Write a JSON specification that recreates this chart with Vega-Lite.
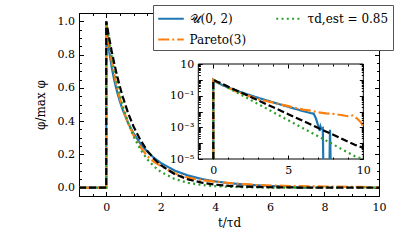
{
  "$schema": "https://vega.github.io/schema/vega-lite/v6.json",
  "width": 300,
  "height": 183,
  "autosize": "none",
  "padding": {"left": 79, "top": 13, "right": 19, "bottom": 50},
  "background": "white",
  "config": {
    "view": {"stroke": "black", "strokeWidth": 1},
    "font": "DejaVu Serif",
    "axis": {"grid": false, "domain": false, "tickColor": "black", "tickWidth": 1, "labelFont": "DejaVu Serif", "labelFontSize": 11, "labelColor": "black", "titleFont": "DejaVu Serif", "titleFontSize": 12, "titleFontWeight": "normal", "titleColor": "black", "labelFlush": false, "labelOverlap": false, "labelBound": false},
    "legend": {"labelFont": "DejaVu Serif", "labelFontSize": 12, "labelColor": "black"}
  },
  "data": {"values": [
    {"s":"U","t":-1,"v":0},{"s":"U","t":0,"v":1e-9},{"s":"U","t":0,"v":1},{"s":"U","t":0.1,"v":0.828},{"s":"U","t":0.2,"v":0.723},{"s":"U","t":0.3,"v":0.641},{"s":"U","t":0.4,"v":0.574},{"s":"U","t":0.5,"v":0.518},{"s":"U","t":0.6,"v":0.469},{"s":"U","t":0.8,"v":0.389},{"s":"U","t":1,"v":0.327},{"s":"U","t":1.25,"v":0.265},{"s":"U","t":1.5,"v":0.217},{"s":"U","t":1.75,"v":0.179},{"s":"U","t":2,"v":0.149},{"s":"U","t":2.5,"v":0.103},{"s":"U","t":3,"v":0.073},{"s":"U","t":3.5,"v":0.052},{"s":"U","t":4,"v":0.0375},{"s":"U","t":4.5,"v":0.0273},{"s":"U","t":5,"v":0.0198},{"s":"U","t":5.5,"v":0.0144},{"s":"U","t":6,"v":0.0106},{"s":"U","t":6.5,"v":0.0079},{"s":"U","t":6.7,"v":0.0072},{"s":"U","t":6.85,"v":0.0035},{"s":"U","t":6.95,"v":0.0017},{"s":"U","t":7.05,"v":0.0009},{"s":"U","t":7.1,"v":0.0006},{"s":"U","t":7.15,"v":0.0011},{"s":"U","t":7.2,"v":0.0008},{"s":"U","t":7.3,"v":0.0009},{"s":"U","t":7.33,"v":1e-9},{"s":"U","t":7.5,"v":null},{"s":"U","t":7.75,"v":1e-9},{"s":"U","t":7.78,"v":0.0007},{"s":"U","t":7.82,"v":1e-9},
    {"s":"P","t":-1,"v":0},{"s":"P","t":0,"v":1e-9},{"s":"P","t":0,"v":1},{"s":"P","t":0.1,"v":0.86},{"s":"P","t":0.2,"v":0.76},{"s":"P","t":0.3,"v":0.675},{"s":"P","t":0.4,"v":0.6},{"s":"P","t":0.5,"v":0.535},{"s":"P","t":0.6,"v":0.48},{"s":"P","t":0.8,"v":0.39},{"s":"P","t":1,"v":0.315},{"s":"P","t":1.25,"v":0.245},{"s":"P","t":1.5,"v":0.19},{"s":"P","t":1.75,"v":0.155},{"s":"P","t":2,"v":0.13},{"s":"P","t":2.5,"v":0.087},{"s":"P","t":3,"v":0.06},{"s":"P","t":3.5,"v":0.046},{"s":"P","t":4,"v":0.036},{"s":"P","t":4.5,"v":0.028},{"s":"P","t":5,"v":0.022},{"s":"P","t":5.5,"v":0.0166},{"s":"P","t":6,"v":0.0132},{"s":"P","t":6.5,"v":0.0112},{"s":"P","t":7,"v":0.0089},{"s":"P","t":7.5,"v":0.0076},{"s":"P","t":8,"v":0.0071},{"s":"P","t":8.5,"v":0.006},{"s":"P","t":9,"v":0.005},{"s":"P","t":9.3,"v":0.0056},{"s":"P","t":9.6,"v":0.0035},{"s":"P","t":9.85,"v":0.002},{"s":"P","t":10,"v":0.0011},
    {"s":"G","t":-1,"v":0},{"s":"G","t":0,"v":1e-9},{"s":"G","t":0,"v":1},{"s":"G","t":0.1,"v":0.889},{"s":"G","t":0.2,"v":0.79},{"s":"G","t":0.3,"v":0.703},{"s":"G","t":0.4,"v":0.625},{"s":"G","t":0.5,"v":0.555},{"s":"G","t":0.6,"v":0.494},{"s":"G","t":0.8,"v":0.39},{"s":"G","t":1,"v":0.308},{"s":"G","t":1.25,"v":0.23},{"s":"G","t":1.5,"v":0.171},{"s":"G","t":1.75,"v":0.128},{"s":"G","t":2,"v":0.095},{"s":"G","t":2.5,"v":0.053},{"s":"G","t":3,"v":0.029},{"s":"G","t":3.5,"v":0.0163},{"s":"G","t":4,"v":0.009},{"s":"G","t":4.5,"v":0.005},{"s":"G","t":5,"v":0.0028},{"s":"G","t":5.5,"v":0.00155},{"s":"G","t":6,"v":0.00086},{"s":"G","t":6.5,"v":0.00048},{"s":"G","t":7,"v":0.00027},{"s":"G","t":7.5,"v":0.00015},{"s":"G","t":8,"v":0.000082},{"s":"G","t":8.5,"v":0.000045},{"s":"G","t":9,"v":0.000025},{"s":"G","t":9.5,"v":0.000014},{"s":"G","t":10,"v":0.0000078},
    {"s":"K","t":-1,"v":0},{"s":"K","t":0,"v":1e-9},{"s":"K","t":0,"v":1},{"s":"K","t":0.1,"v":0.905},{"s":"K","t":0.2,"v":0.819},{"s":"K","t":0.3,"v":0.741},{"s":"K","t":0.4,"v":0.67},{"s":"K","t":0.5,"v":0.607},{"s":"K","t":0.6,"v":0.549},{"s":"K","t":0.8,"v":0.449},{"s":"K","t":1,"v":0.368},{"s":"K","t":1.25,"v":0.287},{"s":"K","t":1.5,"v":0.223},{"s":"K","t":1.75,"v":0.174},{"s":"K","t":2,"v":0.135},{"s":"K","t":2.5,"v":0.082},{"s":"K","t":3,"v":0.0498},{"s":"K","t":3.5,"v":0.0302},{"s":"K","t":4,"v":0.0183},{"s":"K","t":4.5,"v":0.0111},{"s":"K","t":5,"v":0.0067},{"s":"K","t":5.5,"v":0.0041},{"s":"K","t":6,"v":0.0025},{"s":"K","t":6.5,"v":0.0015},{"s":"K","t":7,"v":0.00091},{"s":"K","t":7.5,"v":0.00055},{"s":"K","t":8,"v":0.00034},{"s":"K","t":8.5,"v":0.0002},{"s":"K","t":9,"v":0.00012},{"s":"K","t":9.5,"v":0.000075},{"s":"K","t":10,"v":0.00005}
  ]},
  "layer": [
    {
      "layer": [
        {
          "transform": [{"filter": "datum.s !== 'K'"}],
          "mark": {"type": "line", "strokeWidth": 2.2, "invalid": "break-paths-show-domains"},
          "encoding": {
            "x": {"field": "t", "type": "quantitative", "scale": {"domain": [-1, 10], "nice": false, "zero": false},
              "axis": {"orient": "bottom", "values": [-1,-0.5,0,0.5,1,1.5,2,2.5,3,3.5,4,4.5,5,5.5,6,6.5,7,7.5,8,8.5,9,9.5,10],
                "tickSize": {"condition": {"test": "datum.value % 2 === 0", "value": -4.5}, "value": -2.5},
                "labelExpr": "datum.value % 2 === 0 ? format(datum.value, 'd') : ''", "labelPadding": 10, "title": "t/τd", "titlePadding": 3}},
            "y": {"field": "v", "type": "quantitative", "scale": {"domain": [-0.05, 1.05], "nice": false, "zero": false},
              "axis": {"orient": "left", "values": [-0.05,0,0.05,0.1,0.15,0.2,0.25,0.3,0.35,0.4,0.45,0.5,0.55,0.6,0.65,0.7,0.75,0.8,0.85,0.9,0.95,1,1.05],
                "tickSize": {"condition": {"test": "abs(datum.value*5 - round(datum.value*5)) < 1e-6", "value": -4.5}, "value": -2.5},
                "labelExpr": "abs(datum.value*5 - round(datum.value*5)) < 1e-6 && datum.value >= 0 ? format(datum.value, '.1f') : ''", "labelPadding": 9, "title": "φ/max φ", "titlePadding": 10}},
            "color": {"field": "s", "type": "nominal", "scale": {"domain": ["U", "P", "G"], "range": ["#1f77b4", "#ff7f0e", "#2ca02c"]},
              "legend": {"orient": "none", "legendX": 74, "legendY": -8, "columns": 2, "title": null, "symbolType": "M-1.6,0H1.6", "symbolSize": 256, "symbolStrokeWidth": 2.2, "symbolOffset": 4.5, "labelOffset": 9, "padding": 4, "rowPadding": 5, "columnPadding": 24, "fillColor": "white", "strokeColor": "#555555", "cornerRadius": 0, "labelLimit": 300,
                "labelExpr": "datum.value === 'U' ? '𝒰(0, 2)' : datum.value === 'P' ? 'Pareto(3)' : 'τd,est = 0.85'"}},
            "strokeDash": {"field": "s", "type": "nominal", "scale": {"domain": ["U", "P", "G"], "range": [[1, 0], [11, 3, 2, 3], [2, 3.3]]},
              "legend": {"orient": "none", "legendX": 74, "legendY": -8, "columns": 2, "title": null, "symbolType": "M-1.6,0H1.6", "symbolSize": 256, "symbolStrokeWidth": 2.2, "symbolOffset": 4.5, "labelOffset": 9, "padding": 4, "rowPadding": 5, "columnPadding": 24, "fillColor": "white", "strokeColor": "#555555", "cornerRadius": 0, "labelLimit": 300,
                "labelExpr": "datum.value === 'U' ? '𝒰(0, 2)' : datum.value === 'P' ? 'Pareto(3)' : 'τd,est = 0.85'"}}
          }
        },
        {
          "transform": [{"filter": "datum.s === 'K'"}],
          "mark": {"type": "line", "strokeWidth": 2.2, "color": "black", "strokeDash": [7, 3]},
          "encoding": {
            "x": {"field": "t", "type": "quantitative", "axis": null},
            "y": {"field": "v", "type": "quantitative", "axis": null}
          }
        },
        {
          "transform": [{"filter": "datum.s === 'K'"}],
          "mark": {"type": "line", "opacity": 0},
          "encoding": {
            "x": {"field": "t", "type": "quantitative",
              "axis": {"orient": "top", "values": [-1,-0.5,0,0.5,1,1.5,2,2.5,3,3.5,4,4.5,5,5.5,6,6.5,7,7.5,8,8.5,9,9.5,10],
                "tickSize": {"condition": {"test": "datum.value % 2 === 0", "value": -4.5}, "value": -2.5}, "labels": false, "title": null}},
            "y": {"field": "v", "type": "quantitative",
              "axis": {"orient": "right", "values": [-0.05,0,0.05,0.1,0.15,0.2,0.25,0.3,0.35,0.4,0.45,0.5,0.55,0.6,0.65,0.7,0.75,0.8,0.85,0.9,0.95,1,1.05],
                "tickSize": {"condition": {"test": "abs(datum.value*5 - round(datum.value*5)) < 1e-6", "value": -4.5}, "value": -2.5}, "labels": false, "title": null}}
          }
        }
      ],
      "resolve": {"axis": {"x": "independent", "y": "independent"}}
    },
    {
      "layer": [
        {
          "data": {"values": [{}]},
          "mark": {"type": "rect", "fill": "white", "stroke": "black", "strokeWidth": 1},
          "encoding": {
            "x": {"datum": -1, "type": "quantitative", "scale": {"domain": [-1, 10], "range": [119.3, 284.3], "nice": false, "zero": false, "clamp": true},
              "axis": {"orient": "bottom", "offset": -37, "zindex": 1, "values": [-1,0,1,2,3,4,5,6,7,8,9,10],
                "tickSize": {"condition": {"test": "datum.value % 5 === 0", "value": -4}, "value": -2},
                "labelExpr": "datum.value % 5 === 0 ? format(datum.value, 'd') : ''", "labelPadding": 9.5, "title": null}},
            "x2": {"datum": 10},
            "y": {"datum": 0.00001, "type": "quantitative", "scale": {"type": "log", "domain": [0.00001, 10], "range": [146, 51], "nice": false, "clamp": true},
              "axis": {"orient": "left", "offset": -119.3, "zindex": 1,
                "values": [0.00001,0.00002,0.00003,0.00004,0.00005,0.00006,0.00007,0.00008,0.00009,0.0001,0.0002,0.0003,0.0004,0.0005,0.0006,0.0007,0.0008,0.0009,0.001,0.002,0.003,0.004,0.005,0.006,0.007,0.008,0.009,0.01,0.02,0.03,0.04,0.05,0.06,0.07,0.08,0.09,0.1,0.2,0.3,0.4,0.5,0.6,0.7,0.8,0.9,1,2,3,4,5,6,7,8,9,10],
                "tickSize": {"condition": {"test": "abs(log(datum.value)/LN10 - round(log(datum.value)/LN10)) < 1e-6", "value": -4}, "value": -2},
                "labelExpr": "abs(log(datum.value)/LN10 - round(log(datum.value)/LN10)) < 1e-6 ? (round(log(datum.value)/LN10) === 1 ? '10' : round(log(datum.value)/LN10) === -1 ? '10⁻¹' : round(log(datum.value)/LN10) === -3 ? '10⁻³' : round(log(datum.value)/LN10) === -5 ? '10⁻⁵' : '') : ''",
                "labelPadding": 8.5, "title": null}},
            "y2": {"datum": 10}
          }
        },
        {
          "transform": [{"filter": "datum.s !== 'K' && datum.t >= 0"}],
          "mark": {"type": "line", "strokeWidth": 2.2, "invalid": "break-paths-show-domains"},
          "encoding": {
            "x": {"field": "t", "type": "quantitative", "axis": null},
            "y": {"field": "v", "type": "quantitative", "axis": null},
            "color": {"field": "s", "type": "nominal", "scale": {"domain": ["U", "P", "G"], "range": ["#1f77b4", "#ff7f0e", "#2ca02c"]}},
            "strokeDash": {"field": "s", "type": "nominal", "scale": {"domain": ["U", "P", "G"], "range": [[1, 0], [11, 3, 2, 3], [2, 3.3]]}}
          }
        },
        {
          "transform": [{"filter": "datum.s === 'K' && datum.t >= 0"}],
          "mark": {"type": "line", "strokeWidth": 2.2, "color": "black", "strokeDash": [7, 3]},
          "encoding": {
            "x": {"field": "t", "type": "quantitative", "axis": null},
            "y": {"field": "v", "type": "quantitative", "axis": null}
          }
        },
        {
          "transform": [{"filter": "datum.s === 'K' && datum.t >= 0"}],
          "mark": {"type": "line", "opacity": 0},
          "encoding": {
            "x": {"field": "t", "type": "quantitative",
              "axis": {"orient": "top", "offset": -51, "zindex": 1, "values": [-1,0,1,2,3,4,5,6,7,8,9,10],
                "tickSize": {"condition": {"test": "datum.value % 5 === 0", "value": -4}, "value": -2}, "labels": false, "title": null}},
            "y": {"field": "v", "type": "quantitative",
              "axis": {"orient": "right", "offset": -15.7, "zindex": 1,
                "values": [0.00001,0.00002,0.00003,0.00004,0.00005,0.00006,0.00007,0.00008,0.00009,0.0001,0.0002,0.0003,0.0004,0.0005,0.0006,0.0007,0.0008,0.0009,0.001,0.002,0.003,0.004,0.005,0.006,0.007,0.008,0.009,0.01,0.02,0.03,0.04,0.05,0.06,0.07,0.08,0.09,0.1,0.2,0.3,0.4,0.5,0.6,0.7,0.8,0.9,1,2,3,4,5,6,7,8,9,10],
                "tickSize": {"condition": {"test": "abs(log(datum.value)/LN10 - round(log(datum.value)/LN10)) < 1e-6", "value": -4}, "value": -2}, "labels": false, "title": null}}
          }
        }
      ],
      "resolve": {"axis": {"x": "independent", "y": "independent"}}
    }
  ],
  "resolve": {"scale": {"x": "independent", "y": "independent"}}
}
